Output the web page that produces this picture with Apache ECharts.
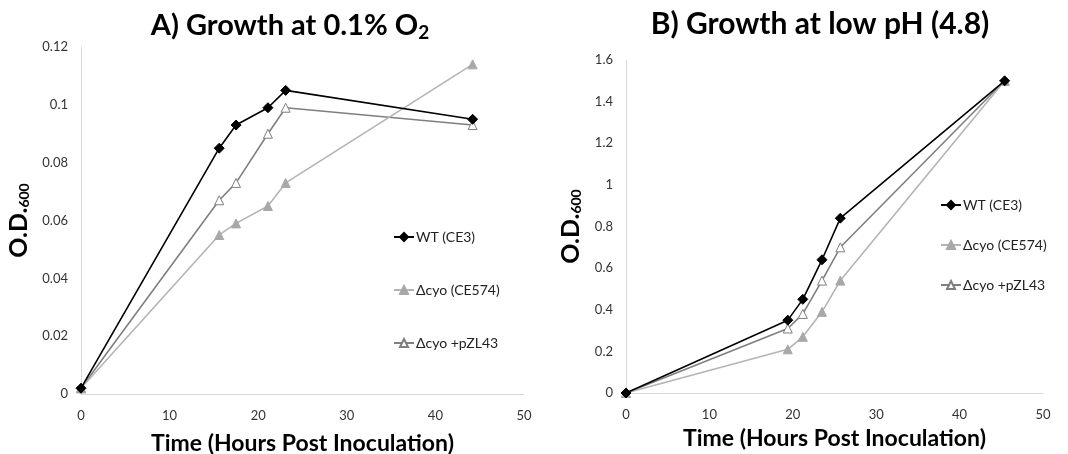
<!DOCTYPE html>
<html>
<head>
<meta charset="utf-8">
<script src="https://cdn.jsdelivr.net/npm/echarts@6/dist/echarts.min.js"></script>
<style>html,body{margin:0;padding:0;background:#fff}#c{width:1068px;height:454px}</style>
</head>
<body>
<div id="c"></div>
<script>
// Panel A: Growth at 0.1% O2
var timesA = [0, 15.6, 17.5, 21.1, 23.1, 44.2];
var wtA    = [0.002, 0.085, 0.093, 0.099, 0.105, 0.095];
var ce574A = [0.002, 0.055, 0.059, 0.065, 0.073, 0.114];
var pzlA   = [0.002, 0.067, 0.073, 0.090, 0.099, 0.093];
// Panel B: Growth at low pH (4.8)
var timesB = [0, 19.4, 21.2, 23.5, 25.7, 45.4];
var wtB    = [0, 0.35, 0.45, 0.64, 0.84, 1.50];
var ce574B = [0, 0.21, 0.27, 0.39, 0.54, 1.50];
var pzlB   = [0, 0.31, 0.38, 0.54, 0.70, 1.50];
var seriesNames = ['WT (CE3)', '\u0394cyo (CE574)', '\u0394cyo +pZL43'];
var yTicksA = [0, 0.12, 0.02];
var yTicksB = [0, 1.6, 0.2];
var xTicks = [0, 50, 10];

function pairs(xs, ys){ return xs.map(function(x,i){ return [x, ys[i]]; }); }

var FONT = 'Lato';
var styles = [
  {symbol:'diamond', size:10, line:'#000000', fill:'#000000', border:'#000000'},
  {symbol:'triangle', size:9, line:'#b4b4b4', fill:'#a8a8a8', border:'#a8a8a8'},
  {symbol:'triangle', size:9, line:'#7f7f7f', fill:'#ffffff', border:'#7f7f7f'}
];
function mk(idx, name, xs, ys, k){
  var s = styles[k];
  return {
    type:'line', name:name, xAxisIndex:idx, yAxisIndex:idx,
    data:pairs(xs, ys), symbol:s.symbol, symbolSize:s.size,
    showAllSymbol:true, z: 10 - k,
    lineStyle:{color:s.line, width:1.6},
    itemStyle:{color:s.fill, borderColor:s.border, borderWidth:1},
    emphasis:{disabled:true}, animation:false
  };
}
var rich = {s:{fontSize:14, fontWeight:'bold', fontFamily:FONT, color:'#000', padding:[11,0,0,0]}};
var richT = {s:{fontSize:19, fontWeight:'bold', fontFamily:FONT, color:'#000', padding:[14,0,0,0]}};

function xAx(idx){
  return {type:'value', gridIndex:idx, min:xTicks[0], max:xTicks[1], interval:xTicks[2],
    name:'Time (Hours Post Inoculation)', nameLocation:'middle', nameGap: idx===0?38:34,
    nameTextStyle:{fontFamily:FONT, fontWeight:'bold', fontSize:23, color:'#000'},
    axisLine:{lineStyle:{color:'#d9d9d9', width:1}}, axisTick:{show:false}, splitLine:{show:false},
    axisLabel:{fontFamily:FONT, fontSize:13, color:'#333', margin:15}};
}
function yAx(idx, t, gap){
  return {type:'value', gridIndex:idx, min:t[0], max:t[1], interval:t[2],
    name:'O.D.{s|600}', nameLocation:'middle', nameGap:gap, nameRotate:90,
    nameTextStyle:{fontFamily:FONT, fontWeight:'bold', fontSize:25, color:'#000', rich:rich},
    axisLine:{show:true, lineStyle:{color:'#d9d9d9', width:1}}, axisTick:{show:false}, splitLine:{show:false},
    axisLabel:{fontFamily:FONT, fontSize:13, color:'#333', margin:13,
      formatter:function(v){ return String(+v.toFixed(2)); }}};
}
var chart = echarts.init(document.getElementById('c'), null, {renderer:'canvas'});
var namesA = seriesNames, namesB = seriesNames.map(function(n){return n + ' ';});
chart.setOption({
  animation:false,
  title:[
    {text:'A) Growth at 0.1% O{s|2}', left:285, top:4, textAlign:'center',
      textStyle:{fontFamily:FONT, fontWeight:'bold', fontSize:29, color:'#000', rich:richT}},
    {text:'B) Growth at low pH (4.8)', left:815, top:4, textAlign:'center',
      textStyle:{fontFamily:FONT, fontWeight:'bold', fontSize:30, color:'#000'}}
  ],
  grid:[
    {left:81, right:544, top:47, bottom:60, outerBoundsMode:'none', containLabel:false},
    {left:626, right:25, top:60, bottom:61, outerBoundsMode:'none', containLabel:false}
  ],
  xAxis:[xAx(0), xAx(1)],
  yAxis:[yAx(0, yTicksA, 50), yAx(1, yTicksB, 43)],
  legend:[
    {orient:'vertical', left:388, top:224, itemGap:37, itemWidth:20, itemHeight:10, selectedMode:false,
      data:namesA, textStyle:{fontFamily:FONT, fontSize:14, color:'#222', lineHeight:16, padding:[0,0,0,-3]}},
    {orient:'vertical', left:935, top:192, itemGap:24, itemWidth:20, itemHeight:10, selectedMode:false,
      data:namesB, textStyle:{fontFamily:FONT, fontSize:14, color:'#222', lineHeight:16, padding:[0,0,0,-3]}}
  ],
  series:[
    mk(0, namesA[0], timesA, wtA, 0),
    mk(0, namesA[1], timesA, ce574A, 1),
    mk(0, namesA[2], timesA, pzlA, 2),
    mk(1, namesB[0], timesB, wtB, 0),
    mk(1, namesB[1], timesB, ce574B, 1),
    mk(1, namesB[2], timesB, pzlB, 2)
  ]
});
</script>
</body>
</html>
